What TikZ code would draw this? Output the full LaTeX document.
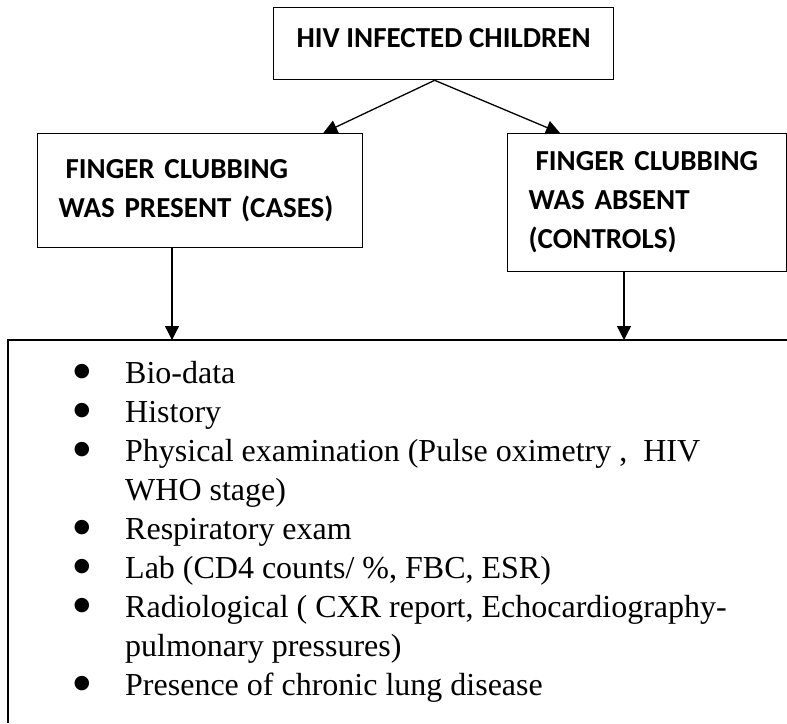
\documentclass[tikz,border=0pt]{standalone}
\usepackage{fontspec}
\usepackage{tikz}
\usetikzlibrary{arrows.meta}
\setmainfont{Liberation Serif}
\newfontfamily\headfont{Carlito}
\newfontfamily\dotfont{DejaVu Sans}
\newcommand{\itemdot}{\llap{{\dotfont\fontsize{19}{19}\selectfont\raisebox{6.5pt}{●}}\hspace{35pt}}}

\begin{document}
\begin{tikzpicture}[x=1pt, y=-1pt,
    box/.style={draw, line width=1.3pt, rectangle, anchor=north west, inner xsep=21pt,
                font=\headfont\bfseries\fontsize{29}{39}\selectfont},
    arr/.style={-{Triangle[length=14pt,width=14pt]}, line width=1.3pt}]
                \useasboundingbox (0,0) rectangle (787,723);

                \node[box, minimum width=340pt, minimum height=72pt, text depth=12pt] (hiv) at (273,7) {HIV INFECTED CHILDREN};
                \node[box, minimum width=325pt, minimum height=114pt, text width=283pt, align=left] (cases) at (37,133)
                    {\hspace*{7pt}FINGER CLUBBING\\WAS PRESENT (CASES)};
                \node[box, minimum width=279pt, minimum height=138pt, text width=237pt, align=left] (controls) at (507,133)
                    {\hspace*{7pt}FINGER CLUBBING\\WAS ABSENT\\(CONTROLS)};

                % open frame round the list
                \coordinate (framesw) at (8,723);
                \coordinate (framenw) at (8,340);
                \coordinate (framene) at (787,340);
                \draw[line width=1.3pt] (framesw) -- (framenw) -- (framene);

                \node[anchor=north west, inner sep=0pt, align=left, font=\fontsize{32}{39}\selectfont] (details) at (125,361)
                    {\itemdot Bio-data\\
                     \itemdot History\\
                     \itemdot Physical examination (Pulse oximetry , \ HIV\\
                     WHO stage)\\
                     \itemdot Respiratory exam\\
                     \itemdot Lab (CD4 counts/ \%, FBC, ESR)\\
                     \itemdot Radiological ( CXR report, Echocardiography-\\
                     pulmonary pressures)\\
                     \itemdot Presence of chronic lung disease};

                \draw[arr] ([xshift=-9pt]hiv.south) -- ([xshift=-40pt]cases.north east);
                \draw[arr] ([xshift=-9pt]hiv.south) -- ([xshift=53pt]controls.north west);
                \draw[arr] ([xshift=135pt]cases.south west) -- ([xshift=135pt]cases.south west |- framenw);
                \draw[arr] ([xshift=117pt]controls.south west) -- ([xshift=117pt]controls.south west |- framenw);
            \end{tikzpicture}
\end{document}
